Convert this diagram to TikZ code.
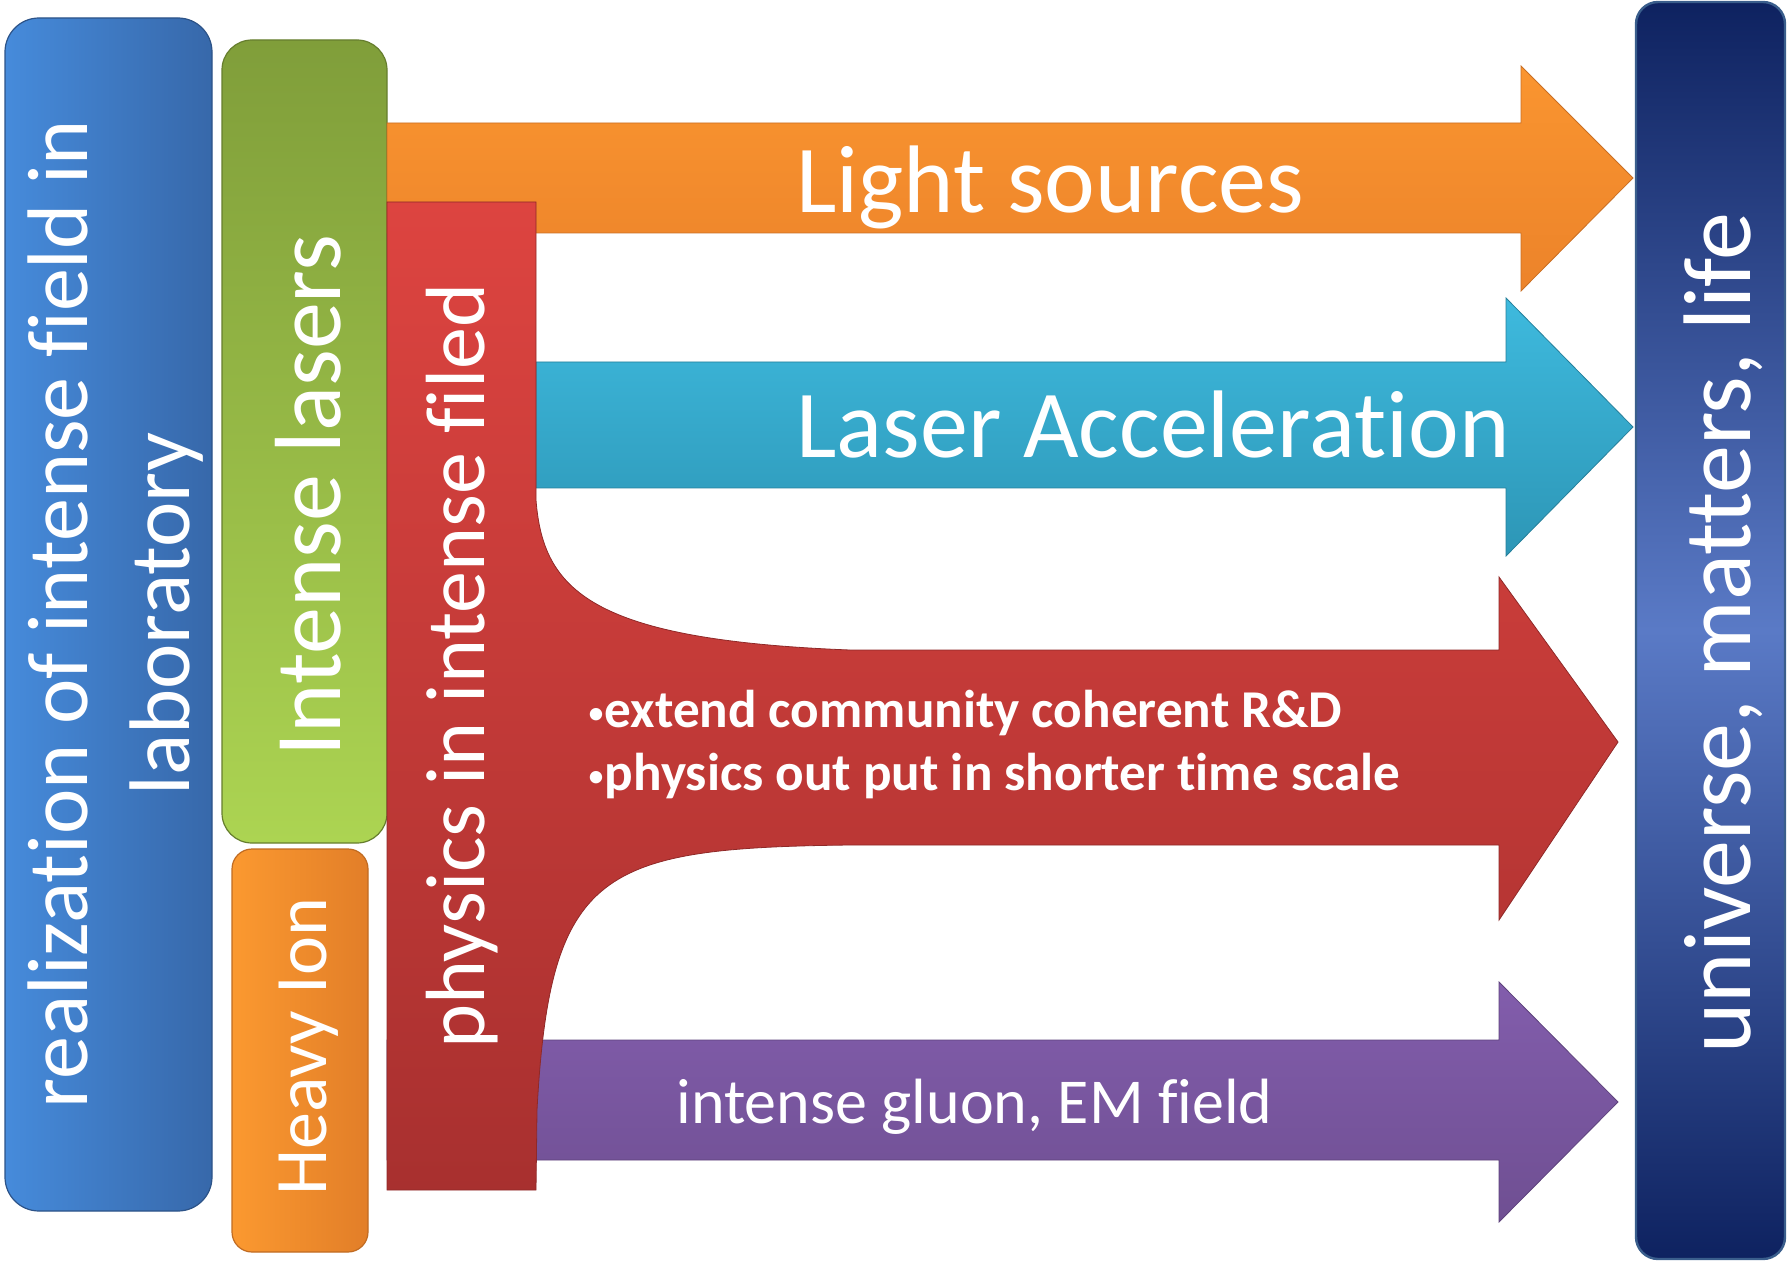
\documentclass[tikz,border=0pt]{standalone}
\usepackage{fontspec}
\setmainfont{Carlito}[Ligatures={NoCommon,NoRequired,NoContextual}]
\definecolor{labblue}{RGB}{70,139,219}
\definecolor{labbluedrk}{RGB}{55,104,170}
\definecolor{lasgreen}{RGB}{128,158,58}
\definecolor{lasgreenlt}{RGB}{172,212,82}
\definecolor{ionorange}{RGB}{251,153,48}
\definecolor{ionorangedrk}{RGB}{226,126,40}
\definecolor{lightorange}{RGB}{250,149,48}
\definecolor{lightorangedrk}{RGB}{236,131,42}
\definecolor{accblue}{RGB}{62,186,222}
\definecolor{accbluedrk}{RGB}{45,150,182}
\definecolor{physred}{RGB}{221,68,64}
\definecolor{physreddrk}{RGB}{168,48,47}
\definecolor{gluonpurple}{RGB}{130,93,172}
\definecolor{gluonpurpledrk}{RGB}{111,79,146}
\definecolor{univdrk}{RGB}{14,34,96}
\definecolor{univlt}{RGB}{90,122,198}
\definecolor{univedge}{RGB}{58,94,140}
\newcommand{\featbullet}{\raisebox{1.5pt}{\fontsize{17.5}{18}\selectfont\mdseries •}}

\begin{document}
\begin{tikzpicture}[x=0.5pt, y=-0.5pt,
	box/.style={rectangle, inner sep=0pt, outer sep=0pt, line width=0.6pt},
	vlabel/.style={rotate=90, anchor=base, inner sep=0pt, text=white},
	hlabel/.style={anchor=base west, inner sep=0pt, text=white}]
	\useasboundingbox (0,0) rectangle (1787,1261);

	% left column
	\node[box, rounded corners=17pt, draw=labbluedrk!80!black, left color=labblue, right color=labbluedrk, minimum width=103.5pt, minimum height=596.5pt] (lab) at (108.5,614.5) {};
	\node[box, rounded corners=15pt, draw=lasgreen!80!black, top color=lasgreen, bottom color=lasgreenlt, minimum width=82.5pt, minimum height=401.5pt] (las) at (304.5,441.5) {};
	\node[box, rounded corners=10pt, draw=ionorangedrk!85!black, left color=ionorange, right color=ionorangedrk, minimum width=68pt, minimum height=201.5pt] (ion) at (300,1050.5) {};

	% arrows
	\shade[top color=lightorange, bottom color=lightorangedrk, draw=lightorangedrk!85!black, line width=0.4pt]
		(387,123) -- (1521,123) -- (1521,66) -- (1633,178) -- (1521,291) -- (1521,233) -- (387,233) -- cycle;
	\shade[top color=accblue, bottom color=accbluedrk, draw=accbluedrk!85!black, line width=0.4pt]
		(536,362) -- (1506,362) -- (1506,298) -- (1633,427) -- (1506,556) -- (1506,488) -- (536,488) -- cycle;
	\shade[top color=gluonpurple, bottom color=gluonpurpledrk, draw=gluonpurpledrk!85!black, line width=0.4pt]
		(387,1040) -- (1499,1040) -- (1499,982) -- (1618,1102) -- (1499,1222) -- (1499,1160) -- (387,1160) -- cycle;
	\shade[top color=physred, bottom color=physreddrk, draw=physreddrk!85!black, line width=0.4pt]
		(387,202) -- (536,202) -- (536,500) .. controls (543,590) and (590,640) .. (850,650)
		-- (1499,650) -- (1499,577) -- (1618,742) -- (1499,920) -- (1499,845) -- (850,845)
		.. controls (600,848) and (550,870) .. (537,1110) -- (536,1190) -- (387,1190) -- cycle;

	% right column
	\node[box, rounded corners=11pt, draw=univedge, line width=1.2pt, top color=univdrk, bottom color=univdrk, middle color=univlt, minimum width=74.5pt, minimum height=628.5pt] (univ) at (1710.5,630.5) {};

	% texts
	\node[rotate=90, align=center, inner sep=0pt, text=white, font=\fontsize{43}{51}\selectfont] (labtxt) at (116,614) {realization of intense field in\\laboratory};
	\node[vlabel, font=\fontsize{47}{56}\selectfont] (lastxt) at (340,496) {Intense lasers};
	\node[vlabel, font=\fontsize{37}{44}\selectfont] (iontxt) at (326,1047) {Heavy Ion};
	\node[vlabel, font=\fontsize{42}{50}\selectfont] (phystxt) at (484,666) {physics in intense filed};
	\node[vlabel, font=\fontsize{48}{58}\selectfont] (univtxt) at (1750,633) {universe, matters, life};

	\node[hlabel, font=\fontsize{48}{58}\selectfont] (lighttxt) at (796,213) {Light sources};
	\node[hlabel, font=\fontsize{48}{58}\selectfont] (acctxt) at (796,458) {Laser Acceleration};
	\node[hlabel, font=\bfseries\fontsize{26.6}{32}\selectfont] (bul1) at (587,727) {\featbullet extend community coherent R\&D};
	\node[hlabel, font=\bfseries\fontsize{26.6}{32}\selectfont] (bul2) at (587,790) {\featbullet physics out put in shorter time scale};
	\node[hlabel, font=\fontsize{32}{38}\selectfont] (gluontxt) at (676,1123) {intense gluon, EM field};
\end{tikzpicture}
\end{document}
